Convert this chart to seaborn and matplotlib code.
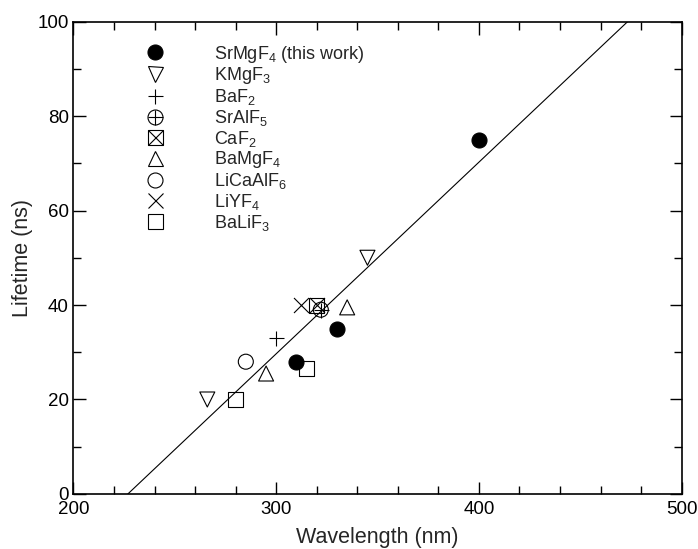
import matplotlib
matplotlib.use('Agg')
import matplotlib.pyplot as plt
from matplotlib.lines import Line2D
from matplotlib.ticker import MultipleLocator
import seaborn as sns

# Data (wavelength in nm, lifetime in ns)
srmgf4_wl = [310, 330, 400]
srmgf4_tau = [28, 35, 75]
kmgf3_wl = [266, 345]
kmgf3_tau = [20, 50]
baf2_wl = [300]
baf2_tau = [33]
sralf5_wl = [322]
sralf5_tau = [39]
caf2_wl = [320]
caf2_tau = [40]
bamgf4_wl = [295, 335]
bamgf4_tau = [25.5, 39.5]
licaalf6_wl = [285]
licaalf6_tau = [28]
liyf4_wl = [312]
liyf4_tau = [40]
balif3_wl = [280, 315]
balif3_tau = [20, 26.5]

# straight guide line through the points
fit_wl = [226.8, 473.4]
fit_tau = [0, 100]

labels = [r'SrMgF$_4$ (this work)', r'KMgF$_3$', r'BaF$_2$', r'SrAlF$_5$',
          r'CaF$_2$', r'BaMgF$_4$', r'LiCaAlF$_6$', r'LiYF$_4$', r'BaLiF$_3$']

sns.set_style('ticks')
plt.rcParams['font.family'] = ['Liberation Sans', 'DejaVu Sans']
plt.rcParams['mathtext.default'] = 'regular'
plt.rcParams['mathtext.fontset'] = 'custom'
plt.rcParams['mathtext.rm'] = 'Liberation Sans'

fig = plt.figure(figsize=(6.98, 5.49), dpi=100)
ax = fig.add_axes([0.1053, 0.1002, 0.8713, 0.8606])

ms = 10.8
s = ms ** 2
lw = 0.8
open_kw = dict(s=s, facecolor='none', edgecolor='black', linewidth=lw, zorder=3)
line_kw = dict(s=s, color='black', linewidth=lw, zorder=3)

sns.lineplot(x=fit_wl, y=fit_tau, ax=ax, color='black', linewidth=0.8, zorder=2)

sns.scatterplot(x=srmgf4_wl, y=srmgf4_tau, ax=ax, marker='o', s=s,
                color='black', edgecolor='black', linewidth=lw, zorder=3)
sns.scatterplot(x=kmgf3_wl, y=kmgf3_tau, ax=ax, marker='v', **open_kw)
sns.scatterplot(x=baf2_wl, y=baf2_tau, ax=ax, marker='+', **line_kw)
sns.scatterplot(x=sralf5_wl, y=sralf5_tau, ax=ax, marker='o', **open_kw)
sns.scatterplot(x=sralf5_wl, y=sralf5_tau, ax=ax, marker='+', **line_kw)
sns.scatterplot(x=caf2_wl, y=caf2_tau, ax=ax, marker='s', **open_kw)
sns.scatterplot(x=caf2_wl, y=caf2_tau, ax=ax, marker='x', **line_kw)
sns.scatterplot(x=bamgf4_wl, y=bamgf4_tau, ax=ax, marker='^', **open_kw)
sns.scatterplot(x=licaalf6_wl, y=licaalf6_tau, ax=ax, marker='o', **open_kw)
sns.scatterplot(x=liyf4_wl, y=liyf4_tau, ax=ax, marker='x', **line_kw)
sns.scatterplot(x=balif3_wl, y=balif3_tau, ax=ax, marker='s', **open_kw)


def h(marker, filled=False):
    return Line2D([], [], linestyle='none', marker=marker, markersize=ms,
                  markerfacecolor='black' if filled else 'none',
                  markeredgecolor='black', markeredgewidth=lw)


handles = [h('o', True), h('v'), h('+'), (h('o'), h('+')), (h('s'), h('x')),
           h('^'), h('o'), h('x'), h('s')]
ax.legend(handles, labels, loc='upper left', bbox_to_anchor=(0.119, 0.953),
          frameon=False, fontsize=13, borderpad=0, borderaxespad=0,
          handlelength=1.0, handletextpad=2.8, labelspacing=0.04)

ax.set_xlim(200, 500)
ax.set_ylim(0, 100)
ax.xaxis.set_major_locator(MultipleLocator(100))
ax.xaxis.set_minor_locator(MultipleLocator(20))
ax.yaxis.set_major_locator(MultipleLocator(20))
ax.yaxis.set_minor_locator(MultipleLocator(10))
ax.tick_params(which='both', direction='in', top=True, right=True,
               width=1.0, colors='black', labelsize=13.5)
ax.tick_params(which='major', length=9)
ax.tick_params(which='minor', length=5.5)
ax.tick_params(axis='x', which='major', pad=5)
for sp in ax.spines.values():
    sp.set_linewidth(1.2)
    sp.set_color('black')

ax.set_xlabel('Wavelength (nm)', fontsize=15.5, labelpad=6.5)
ax.set_ylabel('Lifetime (ns)', fontsize=15.5, labelpad=3)

fig.savefig('out.png', dpi=100)
